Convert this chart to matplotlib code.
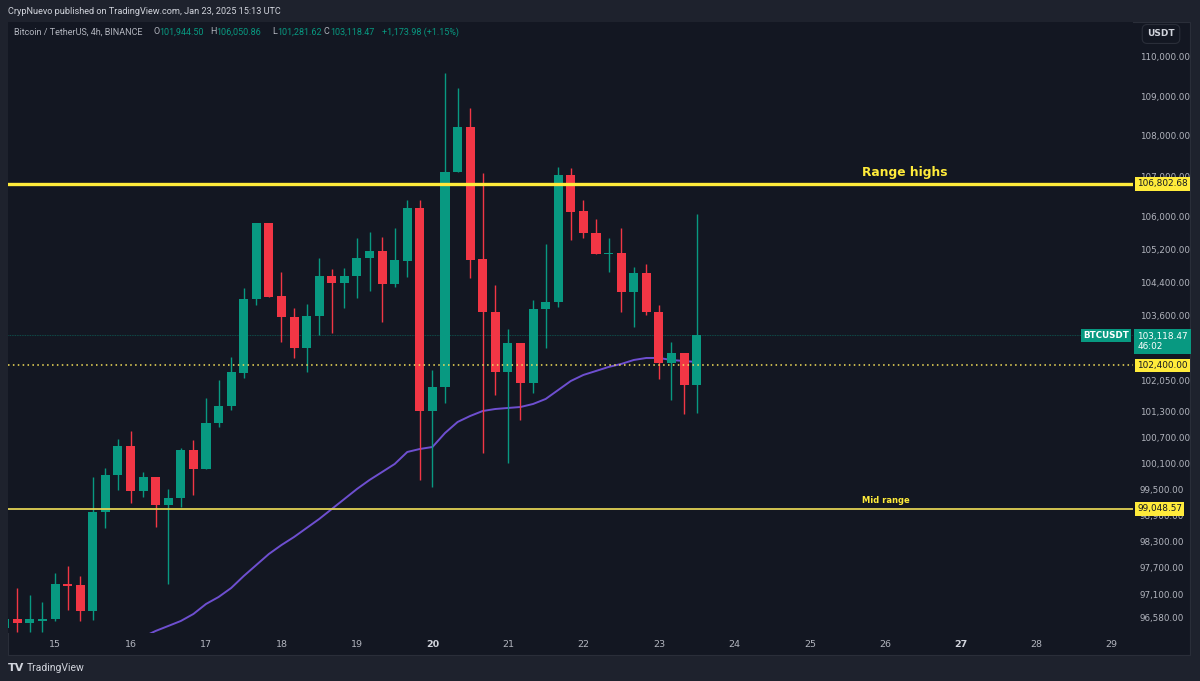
import matplotlib
matplotlib.use("Agg")
import matplotlib.pyplot as plt
from matplotlib.patches import Rectangle
from matplotlib.ticker import NullLocator, NullFormatter
from matplotlib.transforms import blended_transform_factory

# 4h candles, first one is Jan 14 08:00 (index -4), index 0 = Jan 15 00:00
first_index = -4
opens = [96348, 96550, 96460, 96505, 96550, 97336, 97314, 96729, 98976, 99829,
         100503, 99460, 99783, 99137, 99298, 100410, 99968, 101041, 101441, 102221,
         103991, 105840, 104063, 103557, 102815, 103581, 104547, 104377, 104547, 104985,
         105156, 104353, 104912, 106210, 101323, 101889, 107101, 108224, 104960, 103677,
         102245, 102934, 101984, 103750, 103919, 107025, 106136, 105595, 105082, 105107,
         104160, 104620, 103677, 102458, 102696, 101944.50]
highs = [96707, 97246, 97088, 96931, 97585, 97744, 97517, 99783, 99991, 100667,
         100853, 99899, 99783, 99506, 100457, 100644, 101629, 102055, 102600, 104256,
         105840, 105840, 104645, 103774, 103870, 104985, 104717, 104742, 105473, 105620,
         105497, 105718, 106407, 106407, 102292, 109589, 109209, 108703, 107075, 104329,
         103270, 102934, 103967, 105326, 107224, 107199, 106407, 105939, 105473, 105718,
         104766, 104839, 103846, 102958, 102696, 106050.86]
lows = [96237, 96259, 96259, 96259, 96505, 96752, 96505, 96527, 98610, 99483,
        99183, 99321, 98632, 97336, 99091, 99368, 99968, 100947, 101347, 102102,
        103846, 104039, 102958, 102577, 102245, 103126, 103174, 103774, 104015, 104184,
        103437, 104281, 104523, 99714, 99552, 101512, 107101, 104499, 100340, 101700,
        100108, 101112, 101747, 102815, 103798, 105424, 105473, 105082, 104645, 103677,
        103318, 103605, 102079, 101582, 101253, 101281.62]
closes = [96550, 96460, 96550, 96550, 97336, 97291, 96729, 98976, 99829, 100503,
          99460, 99783, 99137, 99298, 100410, 99968, 101041, 101441, 102245, 103991,
          105840, 104039, 103557, 102815, 103581, 104547, 104377, 104547, 104985, 105156,
          104353, 104936, 106210, 101323, 101889, 107101, 108224, 104936, 103677, 102245,
          102934, 101984, 103750, 103919, 107025, 106111, 105595, 105082, 105107, 104160,
          104620, 103677, 102458, 102696, 101936, 103118.47]

# moving average, starts at candle index 7
ma_start = 7
ma_values = [96148, 96282, 96393, 96505, 96662, 96886, 97043, 97246, 97517, 97767,
             98017, 98221, 98404, 98610, 98816, 99045, 99275, 99506, 99714, 99899,
             100085, 100364, 100434, 100480, 100807, 101065, 101206, 101323, 101370, 101394,
             101417, 101488, 101606, 101818, 102031, 102174, 102268, 102363, 102434, 102529,
             102577, 102577, 102529, 102505, 102481]

days = [15, 16, 17, 18, 19, 20, 21, 22, 23, 24, 25, 26, 27, 28, 29]
bold_days = [20, 27]
price_ticks = [110000, 109000, 108000, 107000, 106000, 105200, 104400, 103600,
               102050, 101300, 100700, 100100, 99500, 98900, 98300, 97700, 97100, 96580]

range_high = 106802.68
mid_range = 99048.57
dotted_level = 102400.00
last_price = 103118.47

BG = "#131722"
OUTER = "#1e222d"
GREEN = "#089981"
RED = "#f23645"
YELLOW = "#ffeb3b"
TXT = "#b2b5be"

W, H = 1200, 681
fig = plt.figure(figsize=(12, 6.81), dpi=100, facecolor=OUTER)
fig.patches.append(Rectangle((8 / W, 1 - 655 / H), 1182 / W, 633 / H,
                             transform=fig.transFigure, facecolor=BG,
                             edgecolor="#2a2e39", lw=0.8, zorder=-10))

ax = fig.add_axes([8 / W, 1 - 633 / H, 1125 / W, 611 / H], facecolor=BG)
ax.set_zorder(1)
for s in ax.spines.values():
    s.set_visible(False)

idx = list(range(first_index, first_index + len(opens)))
for i, o, h, l, c in zip(idx, opens, highs, lows, closes):
    col = GREEN if c >= o else RED
    ax.vlines(i, l, h, color=col, lw=1, zorder=3)
    lo, hi = min(o, c), max(o, c)
    if hi - lo < 15:
        hi = lo + 15
    ax.bar(i, hi - lo, bottom=lo, width=0.72, color=col, lw=0, zorder=4)

ma_idx = list(range(ma_start, ma_start + len(ma_values)))
ax.plot(ma_idx, ma_values, color="#6e4fd0", lw=1.4, zorder=2)

ax.axhline(range_high, color=YELLOW, lw=2.4, zorder=5)
ax.axhline(mid_range, color="#e2d254", lw=1.3, zorder=5)
ax.axhline(dotted_level, color="#f5e15a", lw=1.1, ls=(0, (1, 2.2)), zorder=5)
ax.axhline(last_price, color=GREEN, lw=0.6, alpha=0.55, ls=(0, (1, 1)), zorder=1)

ax.text(64.15, range_high * 1.0012, "Range highs", color=YELLOW, fontsize=8.8,
        fontweight="bold", ha="left", va="bottom", family="DejaVu Sans", zorder=6)
ax.text(64.15, mid_range * 1.0009, "Mid range", color=YELLOW, fontsize=6,
        fontweight="bold", ha="left", va="bottom", family="DejaVu Sans", zorder=6)

ax.set_yscale("log")
ax.set_ylim(96236, 110893)
ax.set_xlim(-3.74, 85.69)
ax.yaxis.set_minor_locator(NullLocator())
ax.yaxis.set_minor_formatter(NullFormatter())
ax.set_yticks(price_ticks)
ax.set_yticklabels([f"{p:,.2f}" for p in price_ticks])
ax.yaxis.tick_right()
ax.tick_params(axis="y", length=0, pad=5, labelsize=6.3, labelcolor=TXT)

ax.set_xticks([(d - 15) * 6 for d in days])
ax.set_xticklabels([str(d) for d in days])
ax.tick_params(axis="x", length=0, pad=5, labelsize=6.8, labelcolor=TXT)
for lab, d in zip(ax.get_xticklabels(), days):
    if d in bold_days:
        lab.set_fontweight("bold")
        lab.set_color("#d1d4dc")

tr = blended_transform_factory(ax.transAxes, ax.transData)
for lvl in [range_high, dotted_level, mid_range]:
    ax.annotate(f"{lvl:,.2f}", xy=(1, lvl), xycoords=tr, xytext=(3, 0),
                textcoords="offset points", ha="left", va="center", fontsize=6.4,
                color="#131722", annotation_clip=False, zorder=10,
                bbox=dict(boxstyle="square,pad=0.25", fc=YELLOW, ec="none"))
ax.annotate(f"{last_price:,.2f}\n46:02", xy=(1, last_price), xycoords=tr,
            xytext=(3, -4.5), textcoords="offset points", ha="left", va="center",
            fontsize=6.4, color="white", annotation_clip=False, zorder=10,
            linespacing=1.15,
            bbox=dict(boxstyle="square,pad=0.32", fc=GREEN, ec="none"))
ax.annotate("BTCUSDT", xy=(1, last_price), xycoords=tr, xytext=(-3, 0),
            textcoords="offset points", ha="right", va="center", fontsize=6.3,
            fontweight="bold", color="white", annotation_clip=False, zorder=10,
            bbox=dict(boxstyle="square,pad=0.25", fc=GREEN, ec="none"))

fig.text(1161 / W, 1 - 34 / H, "USDT", color="#d1d4dc", fontsize=6.5,
         fontweight="bold", ha="center", va="center",
         bbox=dict(boxstyle="round,pad=0.55", fc=BG, ec="#2a2e39", lw=0.8))

fig.text(8 / W, 1 - 12 / H, "CrypNuevo published on TradingView.com, Jan 23, 2025 15:13 UTC",
         color="#d1d4dc", fontsize=6.6, family="Roboto", ha="left", va="center")

header = [("Bitcoin / TetherUS, 4h, BINANCE", TXT, 14),
          ("O", TXT, 154), ("101,944.50", GREEN, 159),
          ("H", TXT, 210), ("106,050.86", GREEN, 216),
          ("L", TXT, 272), ("101,281.62", GREEN, 277),
          ("C", TXT, 324), ("103,118.47", GREEN, 330),
          ("+1,173.98 (+1.15%)", GREEN, 382)]
for txt, col, px in header:
    fig.text(px / W, 1 - 32 / H, txt, color=col, fontsize=6.5, family="Roboto",
             ha="left", va="center")

fig.text(8 / W, 1 - 668 / H, "TV", color="#d1d4dc", fontsize=8, fontweight="heavy",
         ha="left", va="center")
fig.text(27 / W, 1 - 668 / H, "TradingView", color="#d1d4dc", fontsize=7.5,
         family="Roboto", ha="left", va="center")

fig.savefig("out.png", dpi=100, facecolor=OUTER)
